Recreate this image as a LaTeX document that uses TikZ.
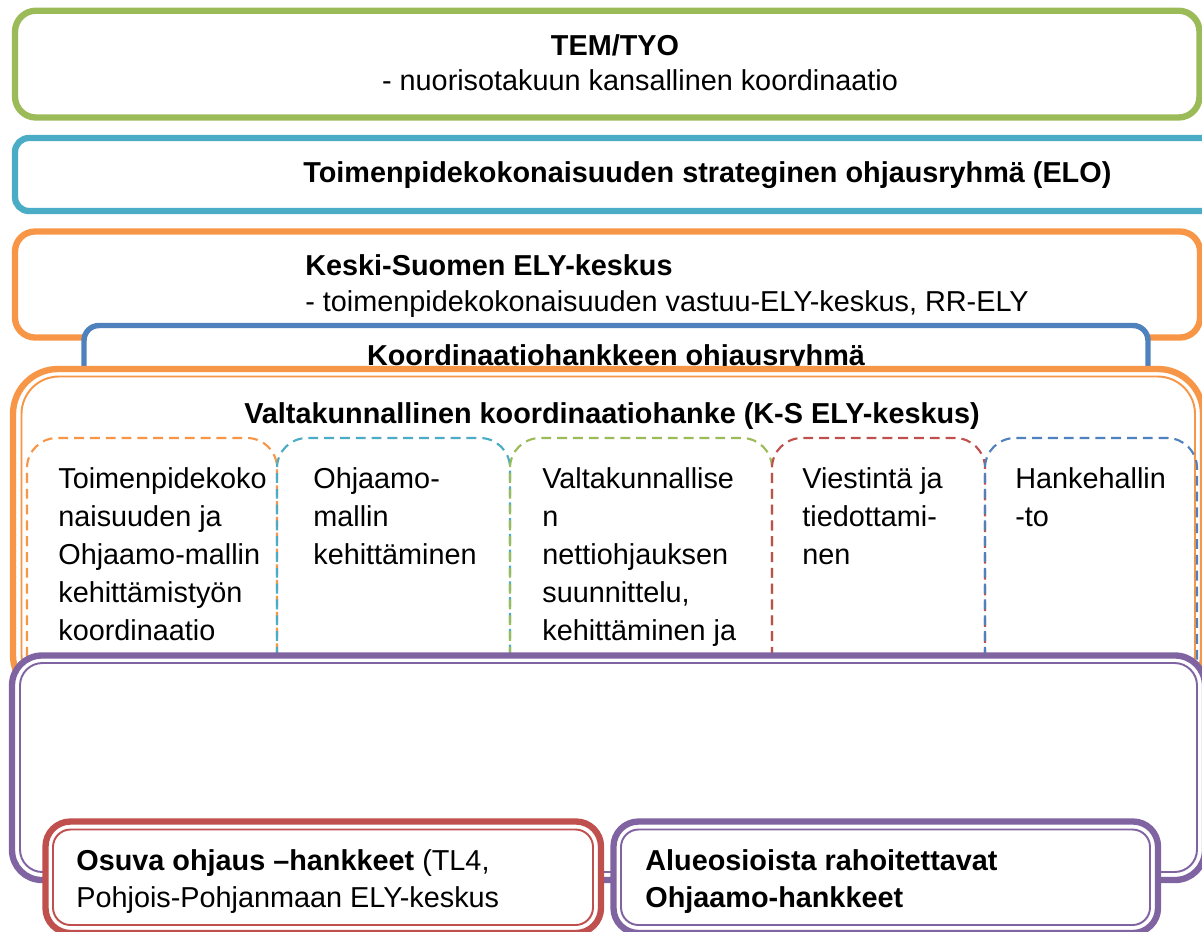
\documentclass[tikz,border=0pt]{standalone}
\usepackage{fontspec}
\setmainfont{Liberation Sans}
\definecolor{temgreen}{HTML}{9BBB59}
\definecolor{elocyan}{HTML}{4BACC6}
\definecolor{elyorange}{HTML}{F79646}
\definecolor{ohblue}{HTML}{4F81BD}
\definecolor{hpurple}{HTML}{8064A2}
\definecolor{osred}{HTML}{C0504D}
\begin{document}
\begin{tikzpicture}[x=0.02cm,y=-0.02cm,line join=round,
  thickline/.style={line width=3.6pt},
  midline/.style={line width=3.1pt},
  thinline/.style={line width=1.1pt},
  dashline/.style={line width=1.2pt,dash pattern=on 5.6pt off 3.4pt,rounded corners=0.6cm},
  txt/.style={inner sep=0pt,font=\fontsize{16.4}{21.6}\selectfont},
  boldtxt/.style={txt,font=\fontsize{16.4}{21.6}\selectfont\bfseries},
  tasktxt/.style={txt,anchor=north west,align=left}]
  \useasboundingbox (0,0) rectangle (1202,931);
  \clip (0,0) rectangle (1202,931);

  % top level boxes
  \draw[thickline,temgreen,rounded corners=0.42cm] (15,10.7) rectangle (1199.5,117.5);
  \draw[thickline,elocyan,rounded corners=0.28cm] (15,138) rectangle (1216,211);
  \draw[thickline,elyorange,rounded corners=0.4cm] (15,231.5) rectangle (1200,337.5);
  \draw[midline,ohblue,fill=white,rounded corners=0.3cm] (84,325.5) rectangle (1148,430);

  \node[boldtxt,anchor=base] (tem) at (615,55) {TEM/TYO};
  \node[txt,anchor=base] (temsub) at (640,90) {- nuorisotakuun kansallinen koordinaatio};
  \node[boldtxt,anchor=base west] (elo) at (303,182) {Toimenpidekokonaisuuden strateginen ohjausryhmä (ELO)};
  \node[boldtxt,anchor=base west] (ely) at (305,275) {Keski-Suomen ELY-keskus};
  \node[txt,anchor=base west] (elysub) at (305,311) {- toimenpidekokonaisuuden vastuu-ELY-keskus, RR-ELY};
  \node[boldtxt,anchor=base] (ohry) at (616,365) {Koordinaatiohankkeen ohjausryhmä};

  % valtakunnallinen koordinaatiohanke
  \draw[thickline,elyorange,fill=white,rounded corners=0.9cm] (13,369) rectangle (1203,700);
  \draw[thinline,elyorange,rounded corners=0.75cm] (21.5,376.5) rectangle (1195,692);
  \node[boldtxt,anchor=base] (valta) at (612,423) {Valtakunnallinen koordinaatiohanke (K-S ELY-keskus)};

  \draw[dashline,elyorange] (27,720) -- (27,438) -- (277,438) -- (277,720);
  \draw[dashline,elocyan] (277,720) -- (277,438) -- (510,438) -- (510,720);
  \draw[dashline,temgreen] (510,720) -- (510,438) -- (772,438) -- (772,720);
  \draw[dashline,osred] (772,720) -- (772,438) -- (985,438) -- (985,720);
  \draw[dashline,ohblue] (985,720) -- (985,438) -- (1197,438) -- (1197,720);

  \node[tasktxt] (task1) at (58,467) {Toimenpidekoko\\naisuuden ja\\Ohjaamo-mallin\\kehittämistyön\\koordinaatio};
  \node[tasktxt] (task2) at (313,467) {Ohjaamo-\\mallin\\kehittäminen};
  \node[tasktxt] (task3) at (542,467) {Valtakunnallise\\n\\nettiohjauksen\\suunnittelu,\\kehittäminen ja};
  \node[tasktxt] (task4) at (802,467) {Viestintä ja\\tiedottami-\\nen};
  \node[tasktxt] (task5) at (1015,467) {Hankehallin\\-to};

  % hankkeet
  \draw[thickline,hpurple,fill=white,rounded corners=0.6cm] (12,655.5) rectangle (1205,880);
  \draw[thinline,hpurple,rounded corners=0.45cm] (20,663) rectangle (1197,872);

  \draw[thickline,osred,fill=white,rounded corners=0.5cm] (45.5,821.5) rectangle (601,933);
  \draw[thinline,osred,rounded corners=0.35cm] (53,829.5) rectangle (593,925);
  \draw[thickline,hpurple,fill=white,rounded corners=0.5cm] (613.5,821.5) rectangle (1158,933);
  \draw[thinline,hpurple,rounded corners=0.35cm] (621,829.5) rectangle (1150,925);

  \node[txt,anchor=base west] (osuva) at (76,870) {\textbf{Osuva ohjaus –hankkeet} (TL4,};
  \node[txt,anchor=base west] (osuvasub) at (76,907) {Pohjois-Pohjanmaan ELY-keskus};
  \node[boldtxt,anchor=base west] (alue) at (645,870) {Alueosioista rahoitettavat};
  \node[boldtxt,anchor=base west] (aluesub) at (645,907) {Ohjaamo-hankkeet};

\end{tikzpicture}
\end{document}
